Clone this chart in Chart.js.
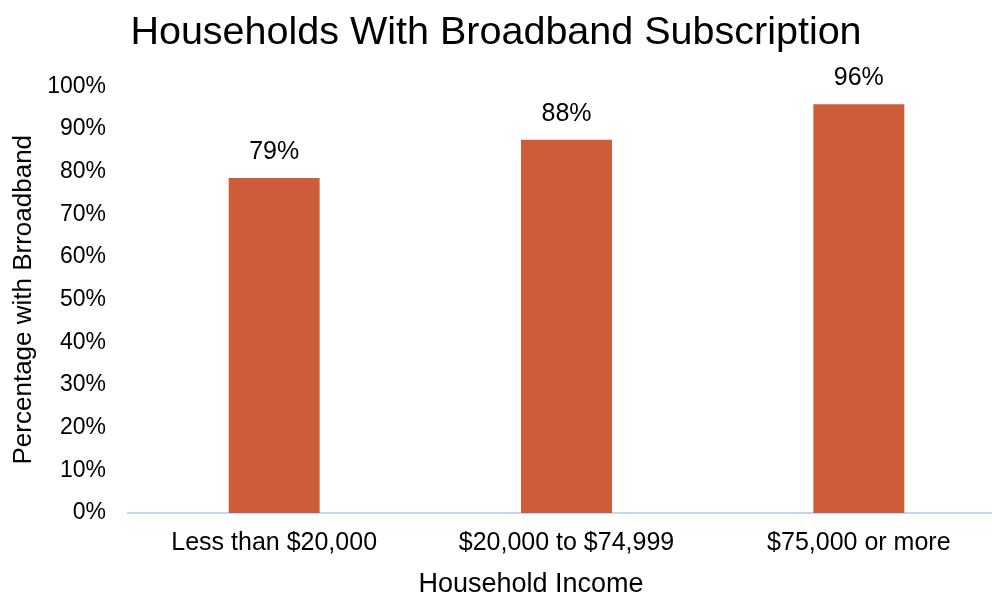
<!DOCTYPE html>
<html>
<head>
<meta charset="utf-8">
<script src="https://cdn.jsdelivr.net/npm/chart.js@4.4.0/dist/chart.umd.min.js"></script>
<style>
  html, body { margin: 0; padding: 0; background: #fff; }
  #wrap { width: 992px; height: 598px; }
</style>
</head>
<body>
<div id="wrap"><canvas id="chart" width="992" height="598"></canvas></div>
<script>
// values
const incomeGroups = ['Less than $20,000', '$20,000 to $74,999', '$75,000 or more'];
const broadbandPct = [78.5, 87.5, 95.8];
const yTickValues = [0, 10, 20, 30, 40, 50, 60, 70, 80, 90, 100];
const xTitle = 'Household Income';

const barColor = '#cd5c39';
const fontFamily = '"Liberation Sans", Arial, sans-serif';

// the original plot area runs a little past the right edge
const widenPlot = {
    id: 'widenPlot',
    afterLayout(chart) {
        const x = chart.scales.x;
        x.right = 1005;
        x.width = x.right - x.left;
        x.configure();
        chart.chartArea.right = 1005;
        chart.chartArea.width = chart.chartArea.right - chart.chartArea.left;
    }
};

// draws the percentage above each bar and the x axis title
const barLabels = {
    id: 'barLabels',
    afterDatasetsDraw(chart) {
        const ctx = chart.ctx;
        const meta = chart.getDatasetMeta(0);
        ctx.save();
        ctx.font = '25px ' + fontFamily;
        ctx.fillStyle = '#000';
        ctx.textAlign = 'center';
        ctx.textBaseline = 'middle';
        meta.data.forEach((bar, i) => {
            ctx.fillText(Math.round(broadbandPct[i]) + '%', bar.x, bar.y - 26);
        });
        ctx.font = '27px ' + fontFamily;
        ctx.fillText(xTitle, 531, 585);
        ctx.restore();
    }
};

const ctx = document.getElementById('chart').getContext('2d');
new Chart(ctx, {
    type: 'bar',
    data: {
        labels: incomeGroups,
        datasets: [{
            data: broadbandPct,
            backgroundColor: barColor,
            categoryPercentage: 1,
            barPercentage: 0.311
        }]
    },
    options: {
        responsive: false,
        animation: false,
        layout: { padding: { left: 0, right: 0, top: 0, bottom: 0 } },
        plugins: {
            legend: { display: false },
            tooltip: { enabled: false },
            title: {
                display: true,
                text: 'Households With Broadband Subscription',
                color: '#000',
                font: { family: fontFamily, size: 39.5, weight: 'normal' },
                padding: { top: 9, bottom: 30 }
            }
        },
        scales: {
            x: {
                grid: { display: false, drawTicks: false },
                border: { display: true, color: '#c3d5f0', width: 2 },
                ticks: {
                    color: '#000',
                    padding: 15,
                    font: { family: fontFamily, size: 25 }
                },
                afterFit(scale) { scale.height = 85; }
            },
            y: {
                min: 0,
                max: 100,
                afterBuildTicks(scale) {
                    scale.ticks = yTickValues.map(v => ({ value: v }));
                },
                grid: { display: false, drawTicks: false },
                border: { display: false },
                ticks: {
                    color: '#000',
                    padding: 22,
                    font: { family: fontFamily, size: 23 },
                    callback: v => v + '%'
                },
                title: {
                    display: true,
                    text: 'Percentage with Brroadband',
                    color: '#000',
                    font: { family: fontFamily, size: 26 },
                    padding: { top: 8, bottom: 2 }
                },
                afterFit(scale) { scale.width = 128; }
            }
        }
    },
    plugins: [widenPlot, barLabels]
});
</script>
</body>
</html>
